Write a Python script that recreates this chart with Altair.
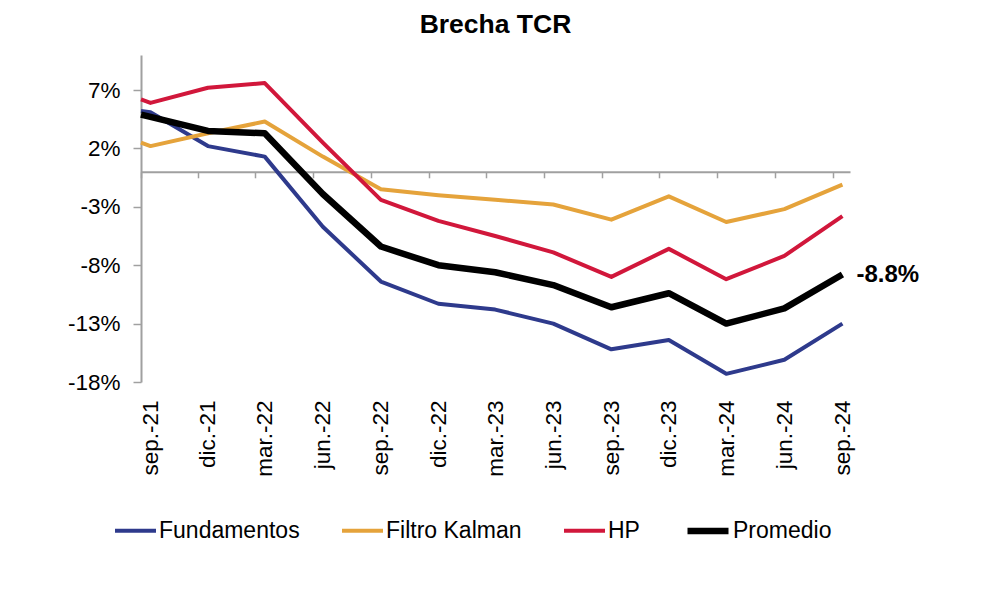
import altair as alt
import pandas as pd

# ---- data (values in %) ----
fechas = ["2021-09-01", "2021-09-16", "2021-12-16", "2022-03-16", "2022-06-16",
          "2022-09-16", "2022-12-16", "2023-03-16", "2023-06-16", "2023-09-16",
          "2023-12-16", "2024-03-16", "2024-06-16", "2024-09-16"]
etiquetas = ["sep.-21", "dic.-21", "mar.-22", "jun.-22", "sep.-22", "dic.-22", "mar.-23",
             "jun.-23", "sep.-23", "dic.-23", "mar.-24", "jun.-24", "sep.-24"]
marcas = ["2021-09-01", "2021-12-01", "2022-03-01", "2022-06-01", "2022-09-01",
          "2022-12-01", "2023-03-01", "2023-06-01", "2023-09-01", "2023-12-01",
          "2024-03-01", "2024-06-01", "2024-09-01"]
dominio_x = ["2021-09-01", "2024-09-28"]

fundamentos = [5.2, 5.1, 2.2, 1.3, -4.7, -9.4, -11.3, -11.8, -13.0, -15.2, -14.4, -17.3, -16.1, -13.0]
kalman = [2.5, 2.2, 3.3, 4.3, 1.3, -1.5, -2.0, -2.4, -2.8, -4.1, -2.1, -4.3, -3.2, -1.1]
hp = [6.2, 5.9, 7.2, 7.6, 2.5, -2.4, -4.2, -5.5, -6.9, -9.0, -6.6, -9.2, -7.2, -3.8]
promedio = [4.9, 4.7, 3.5, 3.3, -1.9, -6.4, -8.0, -8.6, -9.7, -11.6, -10.4, -13.0, -11.7, -8.8]

series = ["Fundamentos", "Filtro Kalman", "HP", "Promedio"]
colores = ["#2E3A8C", "#E5A33B", "#D1173B", "#000000"]
grosores = [4, 4, 4, 6.5]
y_ticks = [-18, -13, -8, -3, 2, 7]
y_dom = [-18, 10]

rows = []
for name, vals in zip(series, [fundamentos, kalman, hp, promedio]):
    for f, v in zip(fechas, vals):
        rows.append({"fecha": f, "serie": name, "valor": v})
df = pd.DataFrame(rows)


def ms(d):
    return int(pd.Timestamp(d, tz="UTC").value // 10**6)


label_ms = [ms(f) for f in fechas[1:]]
tick_ms = [ms(f) for f in marcas]
dom_ms = [ms(d) for d in dominio_x]

W, H = 709, 327
FONT = "Liberation Sans"
GRAY = "#a0a0a0"
zero_offset = -H * (0 - y_dom[0]) / (y_dom[1] - y_dom[0])

xscale = alt.Scale(type="utc", domain=dom_ms, nice=False)
yscale = alt.Scale(domain=y_dom, nice=False, zero=False)

tick_axis = alt.Axis(orient="bottom", offset=zero_offset, values=tick_ms, labels=False,
                     domain=True, domainColor=GRAY, domainWidth=2, ticks=True,
                     tickSize=6, tickWidth=1.5, tickColor=GRAY, grid=False, title=None)

label_expr = f"{etiquetas}[indexof({label_ms}, time(datum.value))]"
label_axis = alt.Axis(orient="bottom", values=label_ms, labelExpr=label_expr, ticks=False,
                      domain=False, grid=False, title=None, labelAngle=-90, labelAlign="right",
                      labelBaseline="middle", labelPadding=18, labelFontSize=22.5, labelFont=FONT,
                      labelColor="#000000", labelOverlap=False, labelBound=False, labelFlush=False)

y_axis = alt.Axis(values=y_ticks, labelExpr="datum.value + '%'", domain=True, domainColor=GRAY,
                  domainWidth=2, ticks=True, tickSize=8, tickWidth=1.5, tickColor=GRAY,
                  labelFontSize=22.5, labelFont=FONT, labelColor="#000000", labelPadding=13,
                  grid=False, title=None)

leg = alt.Legend(title=None, orient="none", legendX=-28, legendY=452, direction="horizontal",
                 symbolType="stroke", symbolSize=1681, labelFontSize=23, labelFont=FONT,
                 labelColor="#000000", columnPadding=34, labelOffset=1, padding=0)

lines = alt.Chart(df).mark_line(strokeJoin="round").encode(
    x=alt.X("fecha:T", scale=xscale, axis=tick_axis),
    y=alt.Y("valor:Q", scale=yscale, axis=y_axis),
    color=alt.Color("serie:N", scale=alt.Scale(domain=series, range=colores), legend=leg),
    strokeWidth=alt.StrokeWidth("serie:N", scale=alt.Scale(type="ordinal", domain=series,
                                                           range=grosores), legend=leg),
)

last = df[df["serie"] == "Promedio"].tail(1).copy()
last["texto"] = last["valor"].map(lambda v: f"{v}%")

annot = alt.Chart(last).mark_text(align="left", baseline="middle", dx=14, fontSize=24,
                                  fontWeight="bold", font=FONT, color="#000000").encode(
    x=alt.X("fecha:T", scale=xscale, axis=label_axis),
    y=alt.Y("valor:Q", scale=yscale),
    text="texto:N",
)

chart = alt.layer(lines, annot).resolve_scale(x="shared", y="shared").resolve_axis(
    x="independent"
).properties(
    width=W, height=H,
    title=alt.Title("Brecha TCR", fontSize=26.5, font=FONT, fontWeight="bold", anchor="middle",
                    offset=17, color="#000000"),
    autosize=alt.AutoSizeParams(type="none"),
    padding={"left": 133, "top": 47, "right": 140, "bottom": 200},
).configure_view(stroke=None)

chart.save("out.html", embed_options={"renderer": "svg", "actions": False})
